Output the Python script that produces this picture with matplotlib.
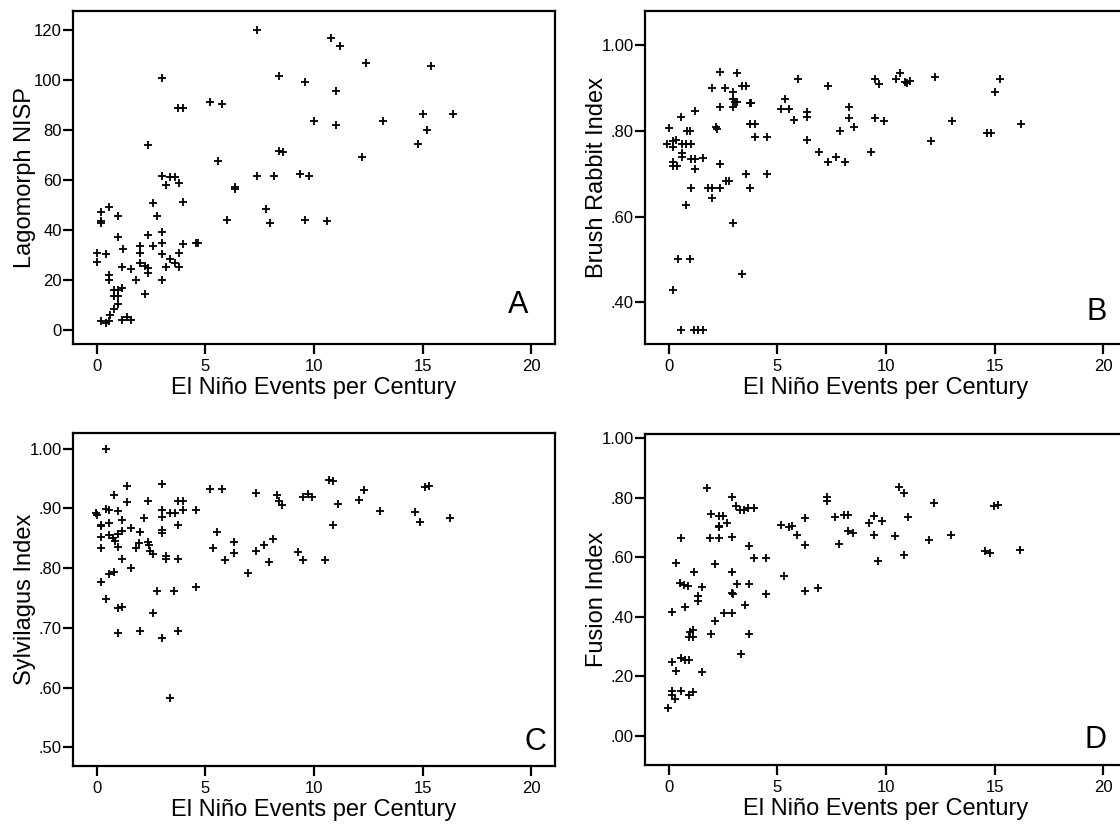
import matplotlib
matplotlib.use("Agg")
import matplotlib.pyplot as plt
from matplotlib.ticker import FuncFormatter

plt.rcParams['font.family'] = ['Liberation Sans', 'DejaVu Sans']

# Panel A: Lagomorph NISP
xa = [7.38, 2.98, 8.37, 9.58, 5.23, 5.77, 3.75, 3.95, 9.98, 2.37,
      5.58, 8.37, 8.57, 2.98, 3.38, 3.60, 3.18, 3.80, 7.38, 8.18,
      9.35, 9.78, 6.38, 6.38, 2.58, 3.98, 2.77, 0.17, 0.54, 0.17,
      0.20, 0.98, 7.78, 7.97, 5.98, 9.58, 0.98, 2.37, 2.98, 1.20,
      1.98, 1.98, 2.58, 2.98, 2.98, 3.80, 3.98, 4.57, 4.65, 0.00,
      0.00, 0.40, 1.17, 1.57, 1.98, 2.22, 2.37, 2.37, 3.18, 3.38,
      3.60, 3.80, 1.80, 2.98, 0.58, 0.58, 2.22, 0.80, 0.98, 1.17,
      0.80, 0.98, 0.98, 0.80, 0.62, 0.17, 0.40, 0.58, 1.17, 1.38,
      1.57, 10.78, 11.20, 12.40, 15.40, 11.00, 11.00, 13.20, 15.00, 16.38,
      15.20, 14.78, 12.20, 10.60]
ya = [120.0, 100.7, 101.5, 99.1, 91.1, 90.2, 88.8, 88.8, 83.6, 74.1,
      67.6, 71.7, 71.2, 61.7, 61.1, 61.1, 57.8, 58.6, 61.7, 61.7,
      62.5, 61.7, 57.1, 56.5, 50.8, 51.3, 45.8, 47.1, 49.1, 43.5,
      43.0, 45.8, 48.2, 42.7, 43.9, 43.9, 37.1, 38.1, 39.2, 32.4,
      33.7, 30.8, 33.7, 34.8, 30.4, 30.8, 34.4, 34.9, 34.9, 31.0,
      27.4, 30.3, 25.4, 24.6, 26.8, 25.7, 25.0, 22.8, 25.2, 28.5,
      27.0, 25.2, 19.9, 19.9, 22.0, 19.9, 14.3, 15.9, 15.9, 16.7,
      13.8, 13.8, 10.6, 8.6, 6.0, 3.6, 2.7, 3.6, 4.0, 5.2,
      4.0, 116.7, 113.4, 106.8, 105.4, 95.6, 81.8, 83.5, 86.5, 86.5,
      79.8, 74.2, 69.1, 43.8]

# Panel B: Brush Rabbit Index
xb = [2.35, 3.15, 1.97, 2.58, 3.35, 3.57, 2.97, 2.97, 3.05, 3.12,
      2.97, 2.35, 3.75, 3.78, 5.94, 5.34, 5.18, 5.54, 5.74, 6.34,
      6.34, 7.31, 8.29, 8.29, 8.51, 7.89, 6.34, 6.92, 7.32, 7.71,
      8.12, 9.29, 9.48, 9.69, 9.48, 9.89, 1.18, 0.57, 0.00, 0.82,
      0.98, 2.17, 2.20, 3.75, 3.97, 3.97, 4.52, -0.08, 0.17, 0.32,
      0.17, 0.62, 0.77, 1.00, 0.62, 0.62, 0.20, 0.20, 0.38, 1.00,
      1.18, 1.18, 1.58, 2.37, 1.00, 1.78, 1.97, 2.35, 1.98, 2.63,
      2.75, 3.55, 3.75, 4.52, 0.78, 2.97, 0.40, 0.98, 0.17, 3.37,
      0.57, 1.15, 1.35, 1.55, 10.66, 10.46, 10.89, 11.09, 10.95, 12.26,
      15.25, 15.03, 13.06, 12.05, 14.63, 14.83, 16.22]
yb = [0.937, 0.934, 0.899, 0.899, 0.905, 0.905, 0.891, 0.873, 0.867, 0.867,
      0.856, 0.856, 0.865, 0.865, 0.920, 0.875, 0.850, 0.851, 0.826, 0.843,
      0.833, 0.904, 0.856, 0.830, 0.809, 0.800, 0.778, 0.750, 0.728, 0.739,
      0.728, 0.750, 0.920, 0.909, 0.829, 0.823, 0.847, 0.833, 0.806, 0.800,
      0.800, 0.808, 0.805, 0.816, 0.816, 0.786, 0.786, 0.770, 0.777, 0.778,
      0.763, 0.769, 0.769, 0.769, 0.749, 0.739, 0.728, 0.718, 0.718, 0.734,
      0.734, 0.710, 0.737, 0.722, 0.667, 0.667, 0.667, 0.667, 0.644, 0.683,
      0.683, 0.700, 0.667, 0.700, 0.626, 0.584, 0.500, 0.500, 0.430, 0.467,
      0.335, 0.335, 0.335, 0.335, 0.935, 0.920, 0.914, 0.916, 0.912, 0.926,
      0.921, 0.890, 0.823, 0.775, 0.795, 0.795, 0.816]

# Panel C: Sylvilagus Index
xc = [0.40, 1.38, 2.98, 0.80, 1.38, 2.37, 3.75, 3.95, 5.20, 5.74,
      7.32, 8.29, 8.37, 8.52, 9.48, 9.72, 9.91, -0.05, 0.00, 0.40,
      0.58, 0.98, 0.17, 0.20, 0.58, 1.17, 2.18, 2.98, 2.98, 3.38,
      3.60, 3.95, 4.55, 3.75, 0.17, 0.58, 0.72, 0.82, 0.98, 1.17,
      1.57, 1.98, 2.98, 2.98, 0.17, 0.98, 1.78, 1.95, 2.37, 2.38,
      2.45, 2.58, 1.17, 1.57, 0.58, 0.77, 0.17, 3.18, 3.18, 3.75,
      0.40, 0.98, 1.17, 2.77, 3.57, 4.55, 2.58, 0.98, 1.97, 2.98,
      3.75, 3.35, 5.55, 5.34, 6.32, 6.32, 5.92, 6.94, 7.32, 7.71,
      8.11, 7.91, 9.28, 9.51, 10.71, 10.89, 12.28, 12.09, 11.11, 15.09,
      15.28, 13.05, 14.66, 14.86, 16.25, 10.89, 10.51]
yc = [1.000, 0.938, 0.941, 0.923, 0.910, 0.912, 0.912, 0.912, 0.933, 0.932,
      0.926, 0.923, 0.912, 0.906, 0.919, 0.924, 0.919, 0.892, 0.889, 0.899,
      0.898, 0.895, 0.872, 0.870, 0.875, 0.881, 0.884, 0.897, 0.885, 0.892,
      0.892, 0.897, 0.897, 0.872, 0.852, 0.855, 0.850, 0.846, 0.857, 0.862,
      0.867, 0.861, 0.864, 0.858, 0.833, 0.835, 0.833, 0.842, 0.844, 0.839,
      0.829, 0.823, 0.815, 0.800, 0.790, 0.794, 0.777, 0.820, 0.815, 0.815,
      0.749, 0.734, 0.735, 0.762, 0.761, 0.769, 0.725, 0.692, 0.695, 0.683,
      0.695, 0.583, 0.860, 0.834, 0.843, 0.825, 0.814, 0.791, 0.829, 0.838,
      0.848, 0.810, 0.827, 0.814, 0.948, 0.946, 0.931, 0.914, 0.907, 0.935,
      0.938, 0.895, 0.894, 0.877, 0.884, 0.872, 0.814]

# Panel D: Fusion Index
xd = [1.74, 2.92, 3.08, 3.28, 3.46, 3.63, 3.92, 1.92, 2.31, 2.51,
      2.69, 2.31, 2.31, 1.89, 2.31, 2.92, 0.54, 3.71, 3.91, 4.46,
      0.34, 2.12, 1.14, 2.92, 0.51, 0.71, 0.89, 1.52, 3.12, 3.71,
      1.32, 1.32, 2.92, 2.94, 4.46, 3.52, 0.74, 0.15, 2.12, 2.52,
      2.92, 0.97, 1.12, 0.94, 1.12, 1.92, 3.71, 3.31, 0.15, 0.54,
      0.74, 0.92, 0.35, 1.52, 0.15, 0.54, 0.15, 0.28, 0.92, 1.12,
      -0.06, 5.28, 5.15, 5.51, 5.69, 5.88, 6.28, 6.28, 6.28, 6.88,
      7.28, 7.28, 7.66, 8.05, 8.26, 7.85, 8.26, 8.46, 9.22, 9.43,
      9.43, 9.62, 10.62, 10.82, 12.20, 9.83, 11.03, 10.42, 12.00, 13.00,
      14.97, 15.18, 14.55, 14.78, 16.17, 10.82]
yd = [0.832, 0.804, 0.773, 0.760, 0.760, 0.765, 0.765, 0.745, 0.738, 0.738,
      0.715, 0.706, 0.701, 0.665, 0.665, 0.668, 0.665, 0.639, 0.597, 0.597,
      0.581, 0.579, 0.551, 0.549, 0.515, 0.507, 0.502, 0.500, 0.509, 0.509,
      0.470, 0.453, 0.481, 0.478, 0.477, 0.441, 0.433, 0.416, 0.385, 0.411,
      0.414, 0.347, 0.356, 0.333, 0.333, 0.342, 0.342, 0.275, 0.249, 0.261,
      0.256, 0.256, 0.216, 0.213, 0.149, 0.151, 0.135, 0.124, 0.135, 0.146,
      0.094, 0.537, 0.710, 0.702, 0.706, 0.674, 0.732, 0.642, 0.487, 0.496,
      0.804, 0.790, 0.734, 0.741, 0.741, 0.645, 0.690, 0.681, 0.716, 0.738,
      0.674, 0.589, 0.838, 0.818, 0.782, 0.721, 0.735, 0.673, 0.657, 0.676,
      0.771, 0.777, 0.620, 0.613, 0.626, 0.608]

xticks = [0, 5, 10, 15, 20]
xlabel = 'El Niño Events per Century'


def spss_fmt(v, pos):
    s = '%.2f' % v
    if s.startswith('0.'):
        s = s[1:]
    return s


fig = plt.figure(figsize=(11.2, 8.27), dpi=100)
W, H = 1120.0, 827.0

panels = [
    # left, top, bottom (pixels), x, y, ylabel, ylim, yticks, letter, letter pos, fmt
    (73, 11, 344, xa, ya, 'Lagomorph NISP', (-5.6, 127.6), [0, 20, 40, 60, 80, 100, 120],
     'A', (0.944, 0.094), None),
    (645, 11, 344, xb, yb, 'Brush Rabbit Index', (0.303, 1.079), [0.4, 0.6, 0.8, 1.0],
     'B', (0.958, 0.072), spss_fmt),
    (73, 433, 766, xc, yc, 'Sylvilagus Index', (0.469, 1.026), [0.5, 0.6, 0.7, 0.8, 0.9, 1.0],
     'C', (0.983, 0.048), spss_fmt),
    (645, 434, 765, xd, yd, 'Fusion Index', (-0.099, 1.015), [0.0, 0.2, 0.4, 0.6, 0.8, 1.0],
     'D', (0.958, 0.052), spss_fmt),
]

for left, top, bottom, x, y, ylab, ylim, yticks, letter, lpos, fmt in panels:
    ax = fig.add_axes([left / W, (H - bottom) / H, 482 / W, (bottom - top) / H])
    ax.plot(x, y, linestyle='none', marker='+', color='black',
            markersize=6, markeredgewidth=1.3)
    ax.set_xlim(-1.1, 21.1)
    ax.set_ylim(*ylim)
    ax.set_xticks(xticks)
    ax.set_yticks(yticks)
    if fmt:
        ax.yaxis.set_major_formatter(FuncFormatter(fmt))
    for sp in ax.spines.values():
        sp.set_linewidth(1.6)
    ax.tick_params(direction='out', length=7, width=1.6, labelsize=12)
    ax.tick_params(axis='y', pad=1)
    ax.tick_params(axis='x', pad=4)
    ax.set_xlabel(xlabel, fontsize=17, va='center')
    ax.xaxis.set_label_coords(0.5, -0.133)
    ax.set_ylabel(ylab, fontsize=17, va='center')
    ax.yaxis.set_label_coords(-0.1, 0.5)
    ax.text(lpos[0], lpos[1], letter, transform=ax.transAxes, fontsize=22,
            ha='right', va='baseline')

fig.savefig('out.png', dpi=100)
